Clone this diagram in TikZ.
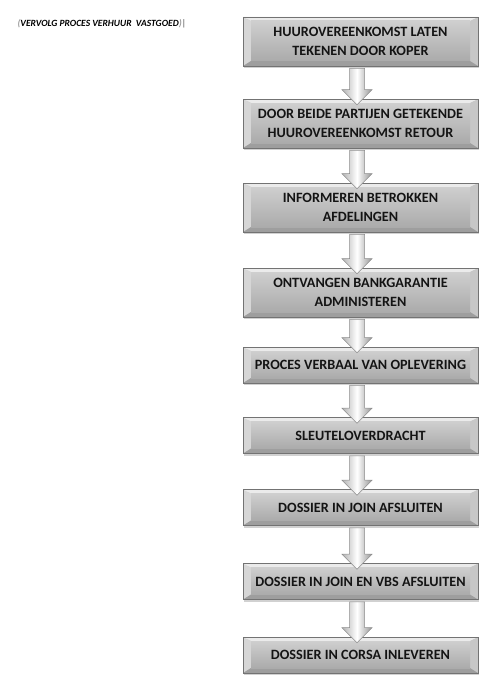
\documentclass[tikz,border=0pt]{standalone}
\usepackage{xcolor}
\usepackage{fontspec}
\setmainfont{Carlito}
\usetikzlibrary{calc,shadows}

\tikzset{
  procbox/.style={draw=black!55, line width=0.6pt, minimum width=235pt,
    minimum height=#1, inner sep=0pt, align=center, text=black!92,
    font=\fontsize{14.2}{18.5}\selectfont\bfseries,
    drop shadow={shadow xshift=1pt, shadow yshift=-2pt, opacity=0.3, fill=black!60},
    path picture={
      \coordinate (nw) at (path picture bounding box.north west);
      \coordinate (ne) at (path picture bounding box.north east);
      \coordinate (sw) at (path picture bounding box.south west);
      \coordinate (se) at (path picture bounding box.south east);
      \coordinate (inw) at ($(nw)+(8,4)$);
      \coordinate (ine) at ($(ne)+(-8,4)$);
      \coordinate (isw) at ($(sw)+(8,-5)$);
      \coordinate (ise) at ($(se)+(-8,-5)$);
      \fill[black!8] (nw) -- (ne) -- (ine) -- (inw) -- cycle;
      \fill[black!16] (nw) -- (inw) -- (isw) -- (sw) -- cycle;
      \fill[black!22] (ne) -- (se) -- (ise) -- (ine) -- cycle;
      \fill[black!38] (sw) -- (isw) -- (ise) -- (se) -- cycle;
      \shade[top color=black!19, bottom color=black!33] (inw) rectangle (ise);
    }},
  flowarrow/.style={draw=black!45, line width=0.5pt,
    left color=black!30, right color=black!42, middle color=white}
}

% block arrow from the bottom of one step to the top of the next
\newcommand{\stepdown}[2]{%
  \path[flowarrow] let \p1=(#1.south), \p2=(#2.north) in
    (\x1-11pt,\y1-2pt) -- (\x1+4pt,\y1-2pt) -- (\x1+4pt,\y2+9pt) --
    (\x1+11.5pt,\y2+9pt) -- (\x1-3.5pt,\y2-6pt) -- (\x1-18.5pt,\y2+9pt) --
    (\x1-11pt,\y2+9pt) -- cycle;
}

\begin{document}
\begin{tikzpicture}[x=1pt,y=-1pt]
\useasboundingbox (0,0) rectangle (495,693);

\node[anchor=west, font=\fontsize{9.5}{11}\selectfont\bfseries\itshape] (titel) at (14,24)
  {\textcolor{black!40}{(}VERVOLG PROCES VERHUUR\ \ VASTGOED\textcolor{black!40}{)}\textcolor{black!50}{\upshape|}};

\node[procbox=49pt] (huur) at (360.5,41.5) {HUUROVEREENKOMST LATEN\\TEKENEN DOOR KOPER};
\node[procbox=49pt] (retour) at (360.5,123.5) {DOOR BEIDE PARTIJEN GETEKENDE\\HUUROVEREENKOMST RETOUR};
\node[procbox=49pt] (informeer) at (360.5,207.5) {INFORMEREN BETROKKEN\\AFDELINGEN};
\node[procbox=49pt] (bankgar) at (360.5,292.5) {ONTVANGEN BANKGARANTIE\\ADMINISTEREN};
\node[procbox=36pt] (pv) at (360.5,365) {PROCES VERBAAL VAN OPLEVERING};
\node[procbox=36pt] (sleutel) at (360.5,435.5) {SLEUTELOVERDRACHT};
\node[procbox=36pt] (join) at (360.5,507.5) {DOSSIER IN JOIN AFSLUITEN};
\node[procbox=36pt] (joinvbs) at (360.5,581.5) {DOSSIER IN JOIN EN VBS AFSLUITEN};
\node[procbox=36pt] (corsa) at (360.5,655) {DOSSIER IN CORSA INLEVEREN};

\stepdown{huur}{retour}
\stepdown{retour}{informeer}
\stepdown{informeer}{bankgar}
\stepdown{bankgar}{pv}
\stepdown{pv}{sleutel}
\stepdown{sleutel}{join}
\stepdown{join}{joinvbs}
\stepdown{joinvbs}{corsa}
\end{tikzpicture}
\end{document}
